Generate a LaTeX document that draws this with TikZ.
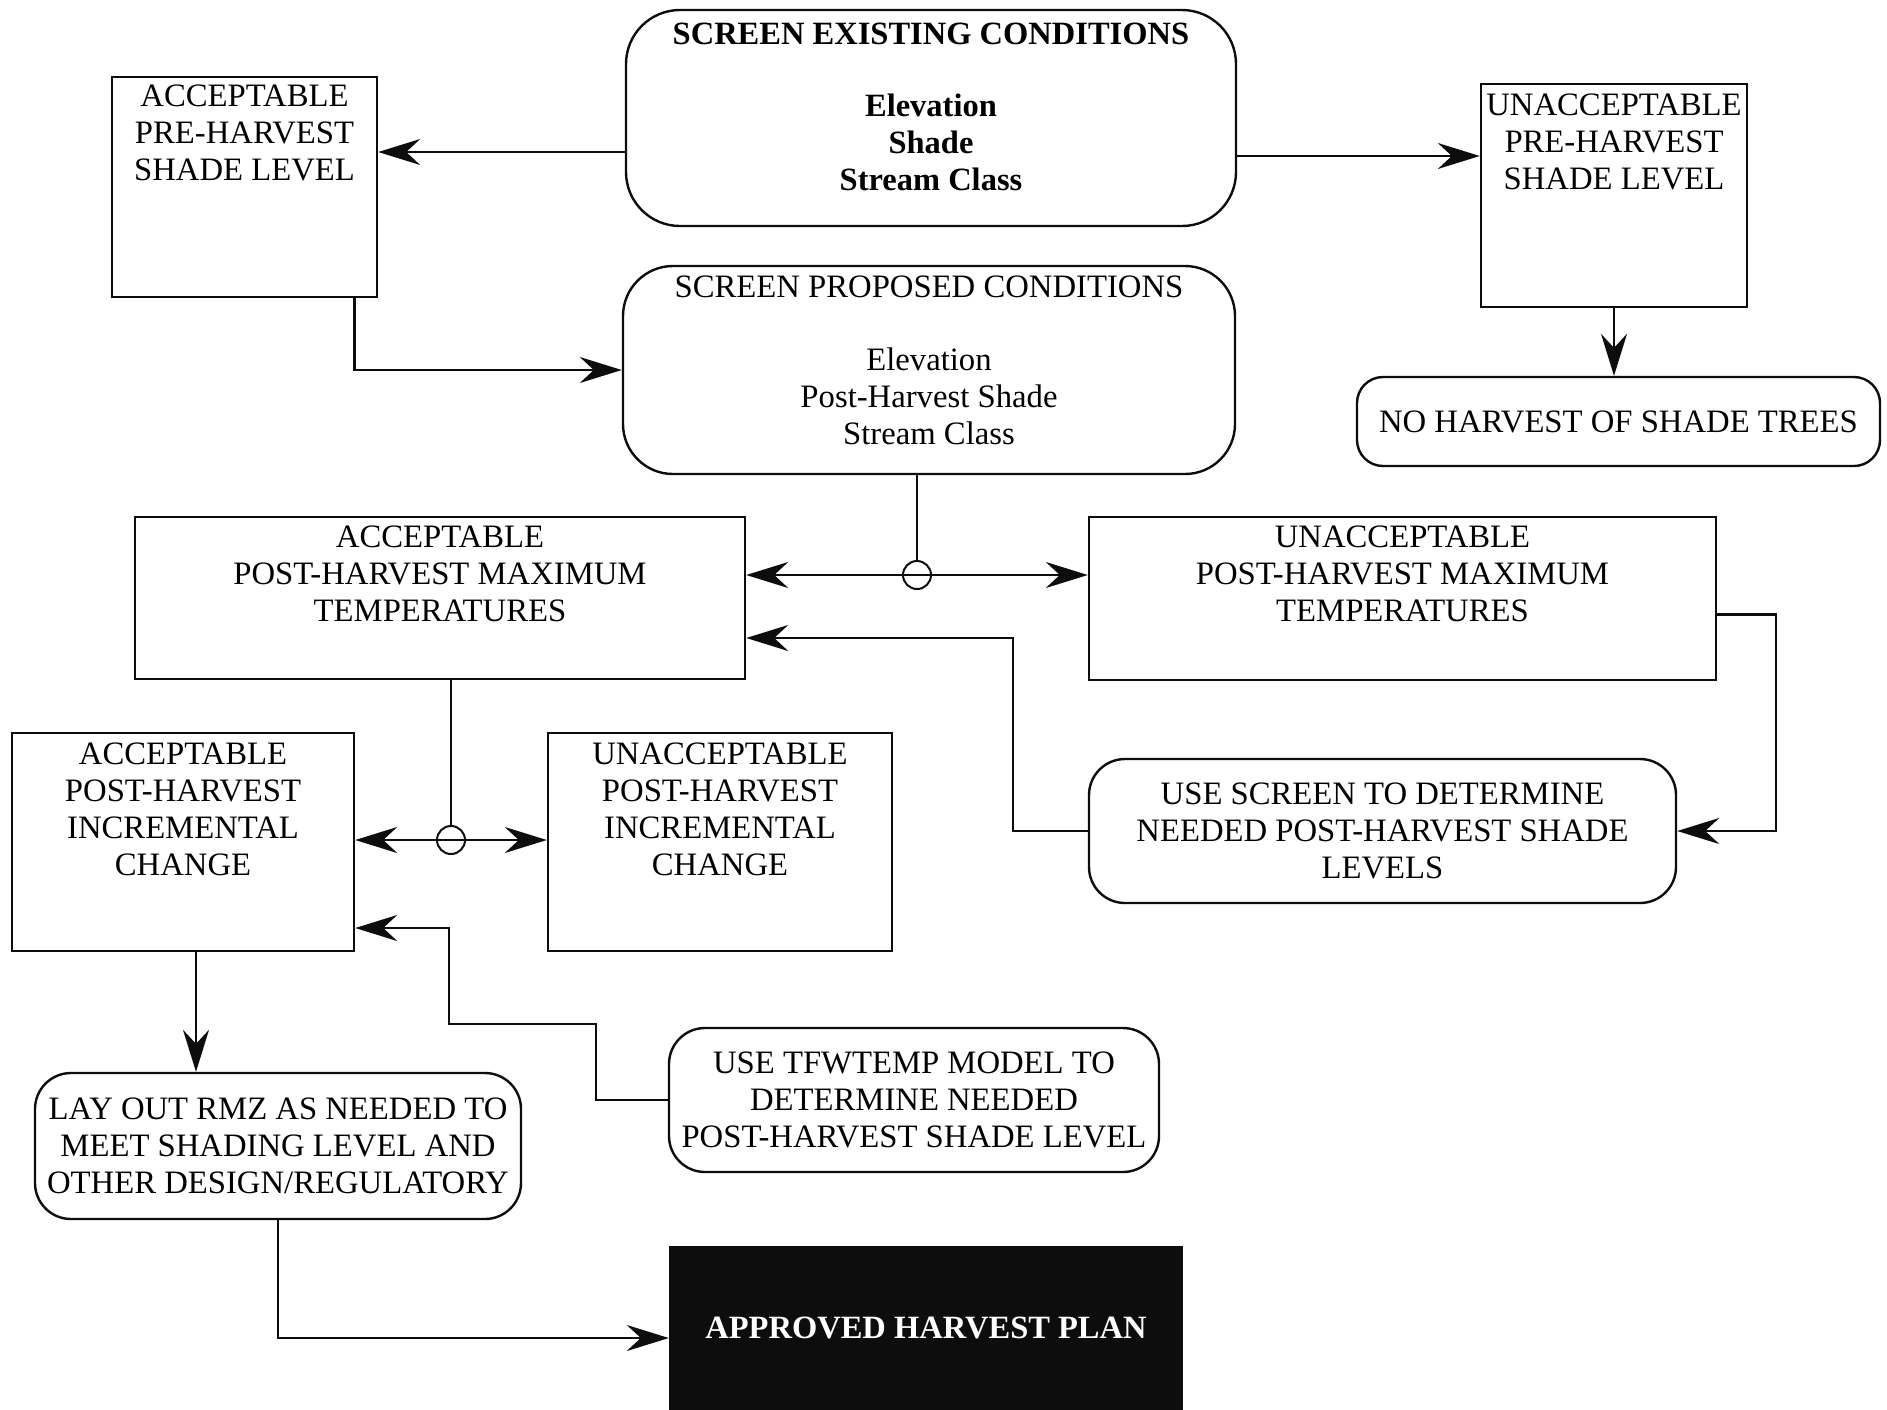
\documentclass[tikz,border=0pt]{standalone}
\usepackage{fontspec}
\setmainfont{Liberation Serif}
\usetikzlibrary{arrows.meta, positioning}
\definecolor{ScanBlack}{gray}{0.05}
\tikzset{%
  level_block/.style={%
    rectangle,%
    draw=ScanBlack,%
    line width=2.4pt,%
    inner sep=0pt,%
  },
  level_text/.style={%
    font={\fontsize{32.7}{37}\selectfont},%
    align=center,%
    inner sep=2pt,%
  },
  title_text/.style={%
    font={\fontsize{32.5}{37}\selectfont\bfseries},%
    align=center,%
    inner sep=2pt,%
  },
  task_block/.style={%
    rectangle,%
    rounded corners=36pt,%
    draw=ScanBlack,%
    line width=2.4pt,%
    inner sep=0pt,%
    font={\fontsize{32.7}{37}\selectfont},%
    align=center,%
  },
  junction/.style={%
    circle,%
    draw=ScanBlack,%
    line width=2pt,%
    minimum size=28pt,%
    inner sep=0pt,%
  },
  flow_path/.style={%
    color=ScanBlack,%
    line width=2.4pt,%
    line join=miter,%
  },
  arrow/.style={-{Stealth[length=42pt, width=26pt, inset=14pt]}},
  plan_block/.style={%
    rectangle,%
    draw=ScanBlack,%
    fill=ScanBlack,%
    line width=2.4pt,%
    inner sep=0pt,%
    text=white,%
    font={\fontsize{32.5}{37}\selectfont\bfseries},%
  },
}

\begin{document}
\begin{tikzpicture}[x=1pt, y=1pt]
    \useasboundingbox (0,0) rectangle (1887,-1409);

    % screening boxes
    \node[level_block, rounded corners=54pt, minimum width=610pt, minimum height=216pt] (ExistCond) at (931,-118) {};
    \node[title_text, below=12pt of ExistCond.north] (ExistCondText)
      {SCREEN EXISTING CONDITIONS\\[35pt]Elevation\\Shade\\Stream Class};
    \node[level_block, rounded corners=50pt, minimum width=612pt, minimum height=208pt] (PropCond) at (929,-370) {};
    \node[level_text, below=9pt of PropCond.north] (PropCondText)
      {SCREEN PROPOSED CONDITIONS\\[36pt]Elevation\\Post-Harvest Shade\\Stream Class};

    % pre-harvest levels
    \node[level_block, minimum width=265pt, minimum height=220pt] (AccPre) at (244.5,-187) {};
    \node[level_text, below=7pt of AccPre.north] (AccPreText) {ACCEPTABLE\\PRE-HARVEST\\SHADE LEVEL};
    \node[level_block, minimum width=266pt, minimum height=223pt] (UnaccPre) at (1614,-195.5) {};
    \node[level_text, below=9pt of UnaccPre.north] (UnaccPreText) {UNACCEPTABLE\\PRE-HARVEST\\SHADE LEVEL};
    \node[task_block, rounded corners=26pt, minimum width=523pt, minimum height=89pt] (NoHarvest) at (1618.5,-421.5)
      {NO HARVEST OF SHADE TREES};

    % post-harvest maximum temperatures
    \node[level_block, minimum width=610pt, minimum height=162pt] (AccMax) at (440,-598) {};
    \node[level_text, below=8pt of AccMax.north] (AccMaxText)
      {ACCEPTABLE\\POST-HARVEST MAXIMUM\\TEMPERATURES};
    \node[level_block, minimum width=627pt, minimum height=163pt] (UnaccMax) at (1402.5,-598.5) {};
    \node[level_text, below=8pt of UnaccMax.north] (UnaccMaxText)
      {UNACCEPTABLE\\POST-HARVEST MAXIMUM\\TEMPERATURES};
    \node[junction] (JuncMax) at (917,-575) {};
    \node[task_block, minimum width=587pt, minimum height=144pt] (UseScreen) at (1382.5,-831)
      {USE SCREEN TO DETERMINE\\NEEDED POST-HARVEST SHADE\\LEVELS};

    % incremental change
    \node[level_block, minimum width=342pt, minimum height=218pt] (AccInc) at (183,-842) {};
    \node[level_text, below=9pt of AccInc.north] (AccIncText)
      {ACCEPTABLE\\POST-HARVEST\\INCREMENTAL\\CHANGE};
    \node[level_block, minimum width=344pt, minimum height=218pt] (UnaccInc) at (720,-842) {};
    \node[level_text, below=9pt of UnaccInc.north] (UnaccIncText)
      {UNACCEPTABLE\\POST-HARVEST\\INCREMENTAL\\CHANGE};
    \node[junction] (JuncInc) at (451,-840) {};
    \node[task_block, minimum width=490pt, minimum height=144pt] (UseModel) at (914,-1100)
      {USE TFWTEMP MODEL TO\\DETERMINE NEEDED\\POST-HARVEST SHADE LEVEL};

    % layout and plan
    \node[task_block, minimum width=486pt, minimum height=146pt] (LayOut) at (278,-1146)
      {LAY OUT RMZ AS NEEDED TO\\MEET SHADING LEVEL AND\\OTHER DESIGN/REGULATORY};
    \node[plan_block, minimum width=512pt, minimum height=162pt] (Approved) at (926,-1328)
      {APPROVED HARVEST PLAN};

    \draw[flow_path, arrow]
      ([yshift=-34pt]ExistCond.west)
      --
      ([yshift=-34pt]ExistCond.west -| AccPre.east);
    \draw[flow_path, arrow]
      ([yshift=-38pt]ExistCond.east)
      --
      ([yshift=-38pt]ExistCond.east -| UnaccPre.west);
    \draw[flow_path, arrow]
      (UnaccPre.south)
      --
      (UnaccPre.south |- NoHarvest.north);
    \draw[flow_path, arrow]
      ([xshift=110pt]AccPre.south)
      |-
      (PropCond.west);
    \draw[flow_path]
      (PropCond.south -| JuncMax)
      --
      (JuncMax.north);
    \draw[flow_path, arrow]
      (JuncMax.center)
      --
      (JuncMax -| AccMax.east);
    \draw[flow_path, arrow]
      (JuncMax.center)
      --
      (JuncMax -| UnaccMax.west);
    \draw[flow_path, arrow]
      ([yshift=-16pt]UnaccMax.east)
      --
      +(59pt, 0)
      |-
      (UseScreen.east);
    \draw[flow_path, arrow]
      (UseScreen.west)
      --
      +(-75pt, 0)
      |-
      ([yshift=-40pt]AccMax.east);
    \draw[flow_path]
      (AccMax.south -| JuncInc)
      --
      (JuncInc.north);
    \draw[flow_path, arrow]
      (JuncInc.center)
      --
      (JuncInc -| AccInc.east);
    \draw[flow_path, arrow]
      (JuncInc.center)
      --
      (JuncInc -| UnaccInc.west);
    \draw[flow_path, arrow]
      (UseModel.west)
      --
      ++(-72pt, 0)
      |-
      ++(-147pt, 76pt)
      |-
      ([yshift=-86pt]AccInc.east);
    \draw[flow_path, arrow]
      ([xshift=13pt]AccInc.south)
      --
      ([xshift=13pt]AccInc.south |- LayOut.north);
    \draw[flow_path, arrow]
      (LayOut.south)
      |-
      ([yshift=-10pt]Approved.west);

  \end{tikzpicture}
\end{document}
